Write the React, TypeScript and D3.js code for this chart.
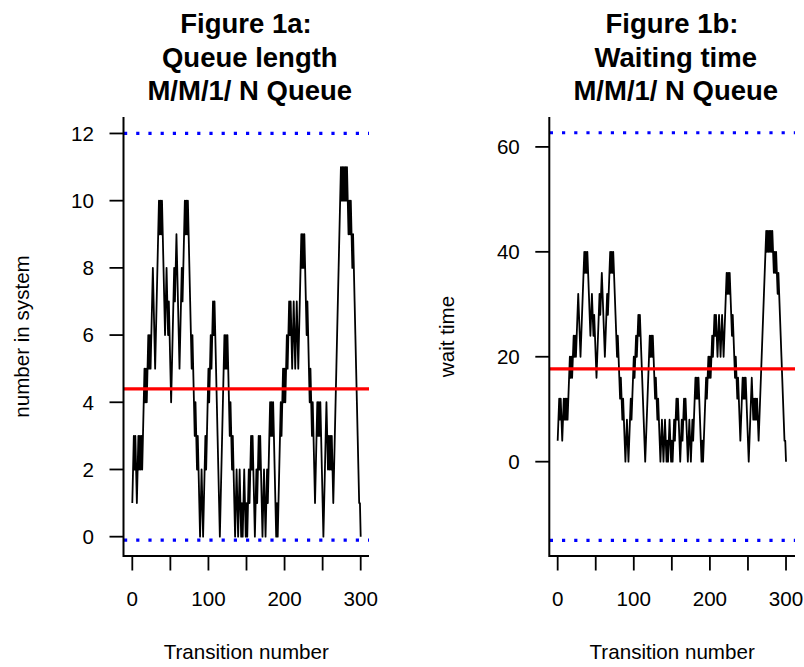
import React, { useEffect, useRef } from 'react';
import * as d3 from 'd3';

const width = 804,
      height = 667;

// number in system after each transition
const queueLength = [
  1, 2, 3, 2, 3, 2, 1, 2, 3, 2,
  3, 2, 3, 2, 3, 4, 5, 4, 5, 4,
  5, 6, 5, 6, 5, 6, 7, 8, 7, 6,
  5, 6, 7, 8, 9, 10, 9, 10, 9, 10,
  9, 8, 7, 6, 7, 8, 7, 6, 7, 6,
  5, 4, 5, 6, 7, 8, 7, 8, 9, 8,
  7, 6, 5, 6, 7, 8, 7, 8, 9, 10,
  9, 10, 9, 10, 9, 8, 7, 6, 5, 6,
  5, 4, 3, 4, 3, 2, 3, 2, 1, 0,
  1, 2, 1, 0, 1, 2, 3, 2, 3, 4,
  5, 4, 5, 6, 5, 6, 7, 6, 7, 6,
  5, 4, 3, 2, 1, 0, 1, 2, 3, 4,
  5, 6, 5, 6, 5, 6, 5, 4, 3, 4,
  3, 2, 3, 2, 1, 0, 1, 2, 1, 0,
  1, 2, 1, 0, 1, 0, 1, 2, 1, 0,
  1, 0, 1, 2, 1, 2, 3, 2, 3, 2,
  1, 0, 1, 2, 1, 2, 3, 2, 3, 2,
  1, 0, 1, 2, 1, 0, 1, 2, 1, 2,
  3, 4, 3, 4, 3, 4, 3, 2, 1, 0,
  1, 0, 1, 2, 3, 4, 3, 4, 5, 4,
  5, 4, 5, 6, 5, 6, 7, 6, 7, 6,
  5, 6, 7, 6, 5, 6, 7, 6, 5, 6,
  7, 8, 9, 8, 9, 8, 9, 8, 7, 6,
  7, 6, 5, 4, 5, 4, 3, 4, 3, 2,
  1, 2, 3, 4, 3, 4, 3, 4, 3, 2,
  1, 0, 1, 2, 3, 4, 3, 2, 3, 2,
  3, 2, 3, 2, 1, 2, 3, 4, 5, 6,
  7, 8, 9, 10, 11, 10, 11, 10, 11, 10,
  11, 10, 11, 10, 9, 10, 9, 10, 9, 8,
  9, 8, 7, 6, 5, 4, 3, 2, 1, 1, 0,
];

// wait time after each transition
const waitTime = [
  4, 8, 12, 8, 12, 8, 4, 8, 12, 8,
  12, 8, 12, 8, 12, 16, 20, 16, 20, 16,
  20, 24, 20, 24, 20, 24, 28, 32, 28, 24,
  20, 24, 28, 32, 36, 40, 36, 40, 36, 40,
  36, 32, 28, 24, 28, 32, 28, 24, 28, 24,
  20, 16, 20, 24, 28, 32, 28, 32, 36, 32,
  28, 24, 20, 24, 28, 32, 28, 32, 36, 40,
  36, 40, 36, 40, 36, 32, 28, 24, 20, 24,
  20, 16, 12, 16, 12, 8, 12, 8, 4, 0,
  4, 8, 4, 0, 4, 8, 12, 8, 12, 16,
  20, 16, 20, 24, 20, 24, 28, 24, 28, 24,
  20, 16, 12, 8, 4, 0, 4, 8, 12, 16,
  20, 24, 20, 24, 20, 24, 20, 16, 12, 16,
  12, 8, 12, 8, 4, 0, 4, 8, 4, 0,
  4, 8, 4, 0, 4, 0, 4, 8, 4, 0,
  4, 0, 4, 8, 4, 8, 12, 8, 12, 8,
  4, 0, 4, 8, 4, 8, 12, 8, 12, 8,
  4, 0, 4, 8, 4, 0, 4, 8, 4, 8,
  12, 16, 12, 16, 12, 16, 12, 8, 4, 0,
  4, 0, 4, 8, 12, 16, 12, 16, 20, 16,
  20, 16, 20, 24, 20, 24, 28, 24, 28, 24,
  20, 24, 28, 24, 20, 24, 28, 24, 20, 24,
  28, 32, 36, 32, 36, 32, 36, 32, 28, 24,
  28, 24, 20, 16, 20, 16, 12, 16, 12, 8,
  4, 8, 12, 16, 12, 16, 12, 16, 12, 8,
  4, 0, 4, 8, 12, 16, 12, 8, 12, 8,
  12, 8, 12, 8, 4, 8, 12, 16, 20, 24,
  28, 32, 36, 40, 44, 40, 44, 40, 44, 40,
  44, 40, 44, 40, 36, 40, 36, 40, 36, 32,
  36, 32, 28, 24, 20, 16, 12, 8, 4, 4, 0,
];

const xTicks = [0, 50, 100, 150, 200, 250, 300];
const xTickLabels = ['0', '', '100', '', '200', '', '300'];
const queueTicks = [0, 2, 4, 6, 8, 10, 12];
const waitTicks = [0, 20, 40, 60];

// reference lines: mean (red) and bounds (blue dotted)
const queueRef = { mean: 4.4, upper: 12, lower: -0.1 };
const waitRef = { mean: 17.67, upper: 62.7, lower: -15 };

const font = 'Liberation Sans, Arial, Helvetica, sans-serif';

const panels = [
  {
    title: ['Figure 1a:', 'Queue length', 'M/M/1/ N Queue'],
    titleX: [246, 249.8, 249.8],
    yLabel: 'number in system',
    values: queueLength,
    yTicks: queueTicks,
    ref: queueRef,
    box: { left: 123.5, right: 369, top: 117, bottom: 556 },
    xDomain: [-11.56, 310.9],
    yDomain: [-0.575, 12.49],
  },
  {
    title: ['Figure 1b:', 'Waiting time', 'M/M/1/ N Queue'],
    titleX: [672, 675.8, 675.8],
    yLabel: 'wait time',
    values: waitTime,
    yTicks: waitTicks,
    ref: waitRef,
    box: { left: 549.3, right: 795, top: 117, bottom: 556 },
    xDomain: [-11.0, 311.8],
    yDomain: [-17.98, 65.7],
  },
];

const App = () => {
  const ref = useRef<SVGSVGElement>(null);

  useEffect(() => {
    const svg = d3.select(ref.current);
    svg.selectAll('*').remove();

    svg.append('rect').attr('width', width).attr('height', height).attr('fill', '#fff');

    panels.forEach((p, pi) => {
      const { box } = p;
      const x = d3.scaleLinear().domain(p.xDomain).range([box.left, box.right]);
      const y = d3.scaleLinear().domain(p.yDomain).range([box.bottom, box.top]);
      const g = svg.append('g');

      const clipId = 'clip' + pi;
      g.append('clipPath').attr('id', clipId)
        .append('rect')
        .attr('x', box.left).attr('y', box.top)
        .attr('width', box.right - box.left).attr('height', box.bottom - box.top);

      const plot = g.append('g').attr('clip-path', `url(#${clipId})`);

      const line = d3.line<number>()
        .x((d, i) => x(i))
        .y((d) => y(d));

      plot.append('path')
        .datum(p.values)
        .attr('d', line)
        .attr('fill', 'none')
        .attr('stroke', '#000')
        .attr('stroke-width', 1.8)
        .attr('stroke-linejoin', 'round');

      plot.append('line')
        .attr('x1', box.left).attr('x2', box.right)
        .attr('y1', y(p.ref.mean)).attr('y2', y(p.ref.mean))
        .attr('stroke', '#ff0000').attr('stroke-width', 3.2);

      [p.ref.upper, p.ref.lower].forEach((v) => {
        plot.append('line')
          .attr('x1', box.left + 0.5).attr('x2', box.right)
          .attr('y1', y(v)).attr('y2', y(v))
          .attr('stroke', '#0000ff').attr('stroke-width', 3.2)
          .attr('stroke-dasharray', '3.2 9');
      });

      // L-shaped box
      g.append('path')
        .attr('d', `M${box.left},${box.top}V${box.bottom}H${box.right}`)
        .attr('fill', 'none').attr('stroke', '#000').attr('stroke-width', 2);

      // x axis
      xTicks.forEach((t, i) => {
        g.append('line')
          .attr('x1', x(t)).attr('x2', x(t))
          .attr('y1', box.bottom).attr('y2', box.bottom + 14.5)
          .attr('stroke', '#000').attr('stroke-width', 1.8);
        if (xTickLabels[i]) {
          g.append('text')
            .attr('x', x(t)).attr('y', 606)
            .attr('text-anchor', 'middle')
            .attr('font-family', font).attr('font-size', 20.6)
            .text(xTickLabels[i]);
        }
      });

      // y axis
      p.yTicks.forEach((t) => {
        g.append('line')
          .attr('x1', box.left).attr('x2', box.left - 14)
          .attr('y1', y(t)).attr('y2', y(t))
          .attr('stroke', '#000').attr('stroke-width', 1.8);
        g.append('text')
          .attr('x', box.left - 29.5).attr('y', y(t) + 7.4)
          .attr('text-anchor', 'end')
          .attr('font-family', font).attr('font-size', 20.6)
          .text(String(t));
      });

      // axis titles
      const cx = (box.left + box.right) / 2;
      const cy = (box.top + box.bottom) / 2;
      g.append('text')
        .attr('x', cx).attr('y', 659)
        .attr('text-anchor', 'middle')
        .attr('font-family', font).attr('font-size', 20.6)
        .text('Transition number');
      g.append('text')
        .attr('transform', `translate(${box.left - 95},${cy}) rotate(-90)`)
        .attr('text-anchor', 'middle')
        .attr('font-family', font).attr('font-size', 20.6)
        .text(p.yLabel);

      // title
      p.title.forEach((s, i) => {
        g.append('text')
          .attr('x', p.titleX[i]).attr('y', 33.3 + i * 33.3)
          .attr('text-anchor', 'middle')
          .attr('font-family', font).attr('font-size', 27.5)
          .attr('font-weight', 'bold')
          .text(s);
      });
    });
  }, []);

  return (
    <svg
      ref={ref}
      width={width}
      height={height}
      viewBox={`0 0 ${width} ${height}`}
      style={{ position: 'absolute', left: 0, top: 0, display: 'block' }}
    />
  );
};

export default App;
